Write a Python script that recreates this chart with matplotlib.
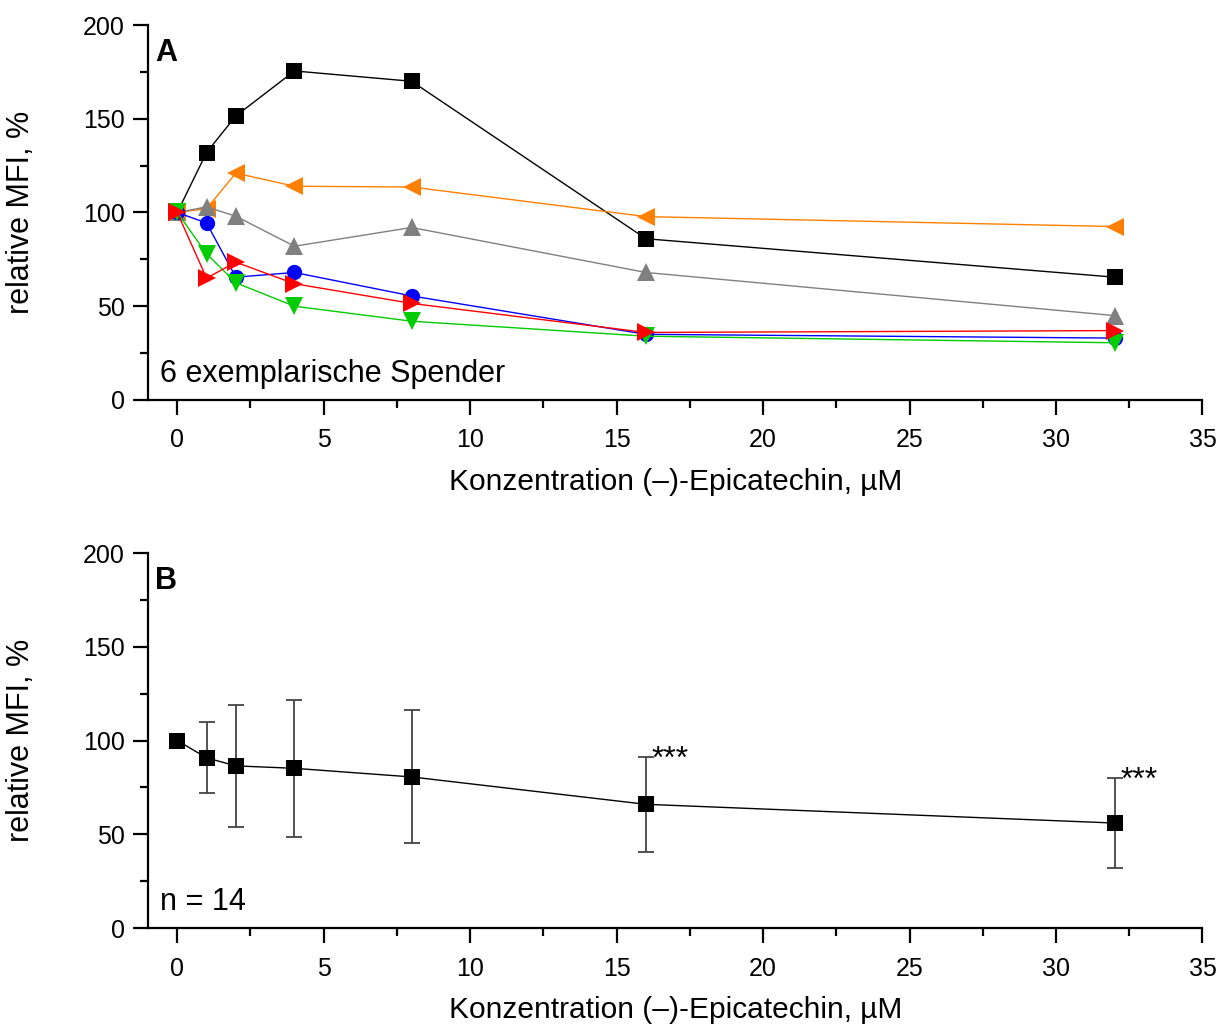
import numpy as np
import matplotlib.pyplot as plt
from matplotlib.ticker import MultipleLocator

plt.rcParams['font.family'] = ['Liberation Sans', 'DejaVu Sans']

# Konzentrationen (µM)
conc = [0, 1, 2, 4, 8, 16, 32]

# Panel A: 6 Spender
donor_black = [100, 132, 151.5, 175.5, 170, 86, 65.5]
donor_orange = [100, 102, 121, 114, 113.6, 97.8, 92.5]
donor_gray = [100, 103, 98, 82, 92, 68, 45]
donor_blue = [100, 94.4, 65.5, 68, 55.5, 35, 33]
donor_red = [100, 65, 73.5, 62, 51.5, 36, 37]
donor_green = [100, 78, 62.5, 50, 42, 34, 30.5]

# Panel B: Mittelwert +/- SD, n = 14
mean_b = [100, 90.8, 86.5, 85.2, 80.6, 66, 56]
sd_b = [0, 19, 32.5, 36.5, 35.5, 25.3, 24]
stars_x = [16, 32]

fig = plt.figure(figsize=(12.27, 10.30), dpi=100)
axA = fig.add_axes([0.1206, 0.6117, 0.8594, 0.364])
axB = fig.add_axes([0.1206, 0.0990, 0.8594, 0.364])

series = [
    (donor_black, 'black', 's', 11),
    (donor_orange, '#ff8000', '<', 13),
    (donor_gray, '#808080', '^', 13),
    (donor_blue, '#0000ff', 'o', 11),
    (donor_green, '#00cc00', 'v', 13),
    (donor_red, '#ff0000', '>', 13),
]
for vals, col, mk, ms in series:
    axA.plot(conc, vals, color=col, marker=mk, markersize=ms, linewidth=1.0,
             markeredgewidth=0)

# Fehlerbalken nur ab 1 µM (0 µM = Referenz 100 %)
axB.errorbar(conc[1:], mean_b[1:], yerr=sd_b[1:], fmt='none', ecolor='#444444',
             elinewidth=1.3, capsize=6, capthick=1.3)
axB.plot(conc, mean_b, color='black', marker='s', markersize=11, linewidth=1.0,
         markeredgewidth=0)
for sx in stars_x:
    i = conc.index(sx)
    axB.text(sx + 0.2, mean_b[i] + sd_b[i] - 6, '***', fontsize=23, ha='left',
             va='baseline')

for ax, letter, note in [(axA, 'A', '6 exemplarische Spender'), (axB, 'B', 'n = 14')]:
    ax.set_xlim(-1, 35)
    ax.set_ylim(0, 200)
    ax.spines['top'].set_visible(False)
    ax.spines['right'].set_visible(False)
    ax.spines['left'].set_linewidth(1.6)
    ax.spines['bottom'].set_linewidth(1.6)
    ax.xaxis.set_major_locator(MultipleLocator(5))
    ax.xaxis.set_minor_locator(MultipleLocator(2.5))
    ax.yaxis.set_major_locator(MultipleLocator(50))
    ax.yaxis.set_minor_locator(MultipleLocator(25))
    ax.tick_params(which='major', direction='out', length=10.5, width=1.6, labelsize=18)
    ax.tick_params(which='minor', direction='out', length=6, width=1.6)
    ax.tick_params(axis='x', which='major', pad=10)
    ax.tick_params(axis='y', which='major', pad=6)
    ax.set_xlabel('Konzentration (–)-Epicatechin, µM', fontsize=21.5, labelpad=11)
    ax.set_ylabel('relative MFI, %', fontsize=22, labelpad=34)
    ax.text(0.007, 0.965, letter, transform=ax.transAxes, fontsize=22, fontweight='bold',
            ha='left', va='top')
    ax.text(0.011, 0.03, note, transform=ax.transAxes, fontsize=22, ha='left', va='bottom')

fig.savefig('out.png', dpi=100)
